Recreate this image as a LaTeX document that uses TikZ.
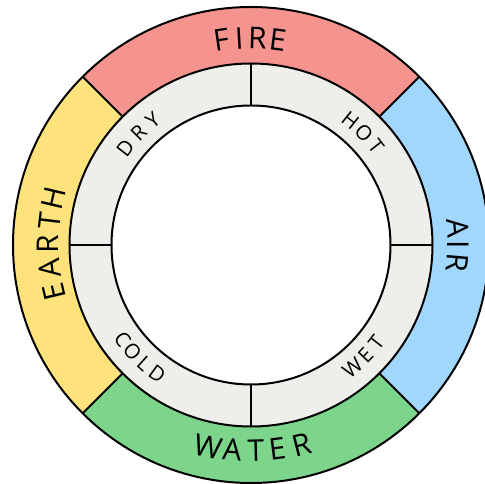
\documentclass[tikz,border=0pt]{standalone}
\usepackage{fontspec}
\setmainfont{Open Sans}
\definecolor{firecol}{HTML}{F5938E}
\definecolor{aircol}{HTML}{A2D7FD}
\definecolor{watercol}{HTML}{7CD58B}
\definecolor{earthcol}{HTML}{FEE37D}
\definecolor{ringcol}{HTML}{EEEFEB}
\begin{document}
\begin{tikzpicture}[x=1pt,y=1pt,
  edge/.style={draw=black,line width=2pt},
  outerlbl/.style={inner sep=0pt,font=\fontsize{30}{32}\selectfont,text height=21.4pt,text depth=0pt},
  innerlbl/.style={inner sep=0pt,font=\fontsize{20.5}{22}\selectfont,text height=14.6pt,text depth=0pt}]
\useasboundingbox (-251,-239) rectangle (234,245);
\clip (-251,-239) rectangle (234,245);
% coloured sectors
\fill[firecol] (45:238) arc[start angle=45,end angle=135,radius=238] -- (135:181.5) arc[start angle=135,end angle=45,radius=181.5] -- cycle;
\fill[earthcol] (135:238) arc[start angle=135,end angle=225,radius=238] -- (225:181.5) arc[start angle=225,end angle=135,radius=181.5] -- cycle;
\fill[watercol] (225:238) arc[start angle=225,end angle=315,radius=238] -- (315:181.5) arc[start angle=315,end angle=225,radius=181.5] -- cycle;
\fill[aircol] (315:238) arc[start angle=315,end angle=405,radius=238] -- (45:181.5) arc[start angle=45,end angle=-45,radius=181.5] -- cycle;
% grey ring
\fill[ringcol,even odd rule] (0,0) circle[radius=181.5] (0,0) circle[radius=139.5];
% circles
\draw[edge] (0,0) circle[radius=238];
\draw[edge] (0,0) circle[radius=181.5];
\draw[edge] (0,0) circle[radius=139.5];
% dividers
\foreach \a in {45,135,225,315} \draw[edge] (\a:181.5) -- (\a:238);
\foreach \a in {0,90,180,270} \draw[edge] (\a:139.5) -- (\a:181.5);
% outer labels
\foreach \l/\a [count=\i] in {F/98.3,I/93.3,R/88.2,E/82.6}
  \node[outerlbl,rotate=\a-90] (fire\i) at (\a:207) {\l};
\foreach \l/\a [count=\i] in {E/193.4,A/186.5,R/179.7,T/173.2,H/166.8}
  \node[outerlbl,rotate=\a-90] (earth\i) at (\a:202.7) {\l};
\foreach \l/\a [count=\i] in {A/4.8,I/0,R/-5}
  \node[outerlbl,rotate=\a-90] (air\i) at (\a:207.3) {\l};
\foreach \l/\a [count=\i] in {W/258,A/264.8,T/271.4,E/277.3,R/284.4}
  \node[outerlbl,rotate=\a+90] (water\i) at (\a:206) {\l};
% inner labels
\foreach \l/\a [count=\i] in {D/142.4,R/135.1,Y/128.3}
  \node[innerlbl,rotate=\a-90] (dry\i) at (\a:158.5) {\l};
\foreach \l/\a [count=\i] in {H/51.3,O/44.7,T/38.1}
  \node[innerlbl,rotate=\a-90] (hot\i) at (\a:159) {\l};
\foreach \l/\a [count=\i] in {C/216.4,O/221.9,L/228,D/234}
  \node[innerlbl,rotate=\a+90] (cold\i) at (\a:159.5) {\l};
\foreach \l/\a [count=\i] in {W/309.7,E/316.1,T/322.1}
  \node[innerlbl,rotate=\a+90] (wet\i) at (\a:159) {\l};
\end{tikzpicture}
\end{document}
